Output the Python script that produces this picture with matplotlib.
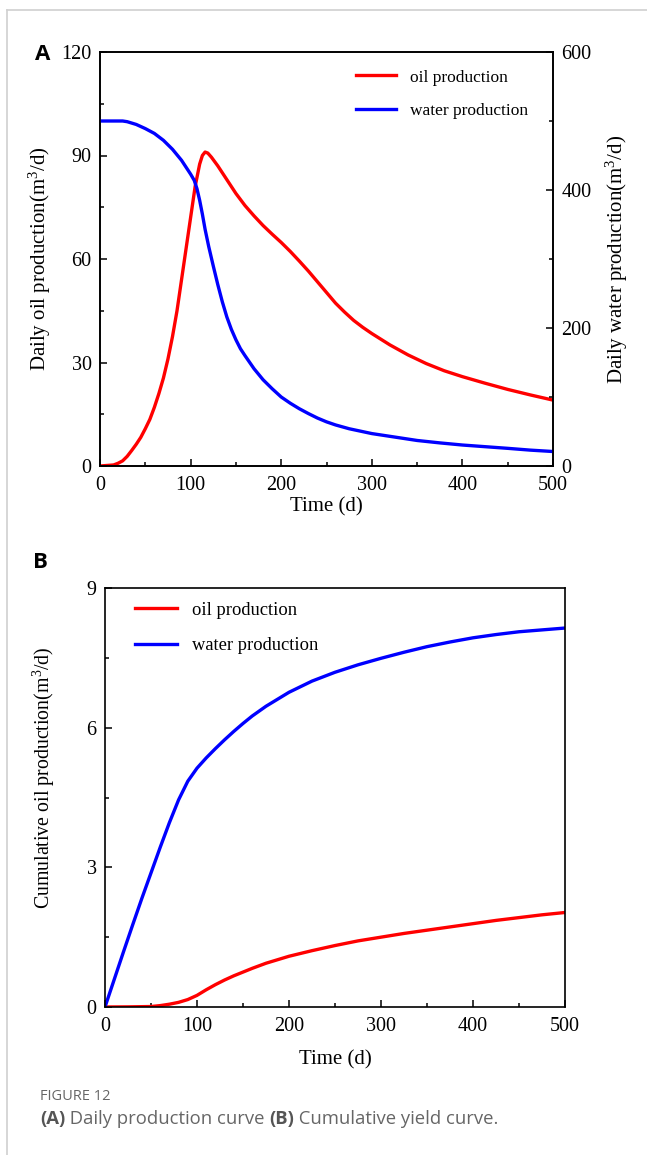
import numpy as np
import matplotlib
matplotlib.use('Agg')
import matplotlib.pyplot as plt
from matplotlib.lines import Line2D
from matplotlib.ticker import MultipleLocator

plt.rcParams['font.family'] = ['Liberation Serif', 'DejaVu Serif']
plt.rcParams['mathtext.fontset'] = 'custom'
plt.rcParams['mathtext.rm'] = 'Liberation Serif'
plt.rcParams['mathtext.it'] = 'Liberation Serif:italic'

# ---- du lieu doc tu hinh ----
# (A) san luong ngay: dau (truc trai), nuoc (truc phai)
t_dau = [0, 15, 20, 25, 30, 35, 40, 45, 50, 55, 60, 65, 70, 75, 80, 85, 90, 95,
         100, 105, 110, 113, 116, 119, 123, 130, 140, 150, 160, 170, 180, 190,
         200, 210, 220, 230, 240, 250, 260, 270, 280, 290, 300, 320, 340, 360,
         380, 400, 425, 450, 475, 500]
dau_ngay = [0, 0.3, 0.8, 1.5, 2.8, 4.5, 6.3, 8.3, 10.8, 13.5, 17, 21, 25.5, 31,
            37.5, 45, 54, 63, 72, 81, 87.5, 90, 91, 90.7, 89.5, 87, 83, 79, 75.5,
            72.5, 69.7, 67.2, 64.8, 62.2, 59.4, 56.5, 53.4, 50.3, 47.2, 44.6, 42.2,
            40.2, 38.4, 35.1, 32.2, 29.7, 27.6, 25.9, 24, 22.2, 20.6, 19.1]

t_nuoc = [0, 25, 30, 40, 50, 60, 70, 80, 90, 95, 100, 104, 107, 110, 113, 116,
          120, 125, 130, 135, 140, 145, 150, 155, 160, 170, 180, 190, 200, 210,
          220, 230, 240, 250, 260, 275, 300, 325, 350, 375, 400, 425, 450, 475, 500]
nuoc_ngay = [500, 500, 499, 495, 489, 482, 472, 459, 443, 433, 423, 414, 402, 385,
             365, 343, 318, 290, 263, 238, 216, 198, 183, 170, 160, 141, 125, 112,
             100, 91, 83, 76, 69.5, 64, 59.5, 54, 47, 42, 37, 33.5, 30.4, 28, 25.6,
             23, 21]

# (B) san luong tich luy
t_tl_dau = [0, 25, 50, 60, 70, 80, 90, 100, 110, 120, 130, 140, 150, 160, 175,
            200, 225, 250, 275, 300, 325, 350, 375, 400, 425, 450, 475, 500]
dau_tl = [0, 0.003, 0.01, 0.03, 0.06, 0.1, 0.16, 0.25, 0.37, 0.48, 0.58, 0.67,
          0.75, 0.83, 0.94, 1.09, 1.21, 1.32, 1.42, 1.5, 1.58, 1.65, 1.72, 1.79,
          1.86, 1.92, 1.98, 2.03]

t_tl_nuoc = [0, 10, 20, 30, 40, 50, 60, 70, 80, 90, 100, 110, 120, 130, 140, 150,
             160, 175, 200, 225, 250, 275, 300, 325, 350, 375, 400, 425, 450, 475, 500]
nuoc_tl = [0, 0.59, 1.18, 1.76, 2.33, 2.88, 3.43, 3.96, 4.45, 4.85, 5.13, 5.35,
           5.55, 5.74, 5.92, 6.09, 6.25, 6.46, 6.76, 7.0, 7.19, 7.35, 7.49, 7.62,
           7.74, 7.84, 7.93, 8.0, 8.06, 8.1, 8.14]

W, H = 647, 1155
fig = plt.figure(figsize=(W / 100, H / 100), dpi=100)

# khung vien xam
fig.add_artist(Line2D([7 / W, 1], [1 - 10 / H, 1 - 10 / H], color='#d0d0d0', lw=1.2))
fig.add_artist(Line2D([7 / W, 7 / W], [0, 1 - 10 / H], color='#d0d0d0', lw=1.2))

do_day = 2.4
co_so = 14.5    # co chu so tren truc
co_nhan = 15    # co chu ten truc


def ChinhTruc(ax, minor_y):
    for s in ax.spines.values():
        s.set_linewidth(1.2)
    ax.xaxis.set_minor_locator(MultipleLocator(50))
    ax.yaxis.set_minor_locator(MultipleLocator(minor_y))
    ax.tick_params(which='both', direction='in', labelsize=co_so, width=1.1)
    ax.tick_params(which='major', length=5, pad=6)
    ax.tick_params(which='minor', length=3)
    ax.tick_params(axis='x', which='major', pad=7.5)


# ---- hinh A ----
axA = fig.add_axes([100 / W, 1 - 466 / H, 453 / W, 414 / H])
axA.plot(t_dau, dau_ngay, color='#ff0000', lw=do_day, label='oil production')
axA2 = axA.twinx()
axA2.plot(t_nuoc, nuoc_ngay, color='#0000ff', lw=do_day, label='water production')
axA.set_xlim(0, 500)
axA.set_ylim(0, 120)
axA2.set_ylim(0, 600)
axA.set_yticks([0, 30, 60, 90, 120])
axA2.set_yticks([0, 200, 400, 600])
ChinhTruc(axA, 15)
ChinhTruc(axA2, 100)
axA.tick_params(top=False, right=False, which='both')
axA.set_xlabel('Time (d)', fontsize=co_nhan, labelpad=1)
axA.set_ylabel('Daily oil production(m$^{3}$/d)', fontsize=co_nhan, labelpad=6)
axA2.set_ylabel('Daily water production(m$^{3}$/d)', fontsize=co_nhan, labelpad=9)
duong = axA.get_lines() + axA2.get_lines()
axA.legend(duong, [d.get_label() for d in duong], loc='upper left',
           bbox_to_anchor=(0.565, 0.958), frameon=False, fontsize=12.5,
           handlelength=2.3, handletextpad=0.8, labelspacing=1.0,
           borderpad=0, borderaxespad=0)

# ---- hinh B ----
axB = fig.add_axes([105 / W, 1 - 1007 / H, 460 / W, 419 / H])
axB.plot(t_tl_dau, dau_tl, color='#ff0000', lw=do_day, label='oil production')
axB.plot(t_tl_nuoc, nuoc_tl, color='#0000ff', lw=do_day, label='water production')
axB.set_xlim(0, 500)
axB.set_ylim(0, 9)
axB.set_yticks([0, 3, 6, 9])
ChinhTruc(axB, 1.5)
axB.set_xlabel('Time (d)', fontsize=co_nhan, labelpad=10)
axB.set_ylabel('Cumulative oil production(m$^{3}$/d)', fontsize=14.3)
axB.yaxis.set_label_coords(-0.105, 0.547)
axB.legend(loc='upper left', bbox_to_anchor=(0.065, 0.967), frameon=False,
           fontsize=13.3, handlelength=2.3, handletextpad=0.8, labelspacing=1.0,
           borderpad=0, borderaxespad=0)

# nhan A, B
fig.text(43 / W, 1 - 55 / H, 'A', family='Open Sans', weight='bold', fontsize=16,
         ha='center', va='center')
fig.text(40 / W, 1 - 563 / H, 'B', family='Open Sans', weight='bold', fontsize=16,
         ha='center', va='center')

# chu thich: ghep tung doan chu noi tiep nhau
fig.text(40 / W, 1 - 1097 / H, 'FIGURE 12', family='Open Sans', fontsize=10.5,
         color='#666666', va='center')
doan = [('(A)', 'bold', '#555555'), (' Daily production curve ', 'normal', '#666666'),
        ('(B)', 'bold', '#555555'), (' Cumulative yield curve.', 'normal', '#666666')]
r = fig.canvas.get_renderer()
x = 40
for chu, dam, mau in doan:
    tt = fig.text(x / W, 1 - 1119 / H, chu, family='Open Sans', weight=dam,
                  fontsize=13.3, color=mau, va='center')
    x = tt.get_window_extent(renderer=r).x1

fig.savefig('out.png', dpi=100)
